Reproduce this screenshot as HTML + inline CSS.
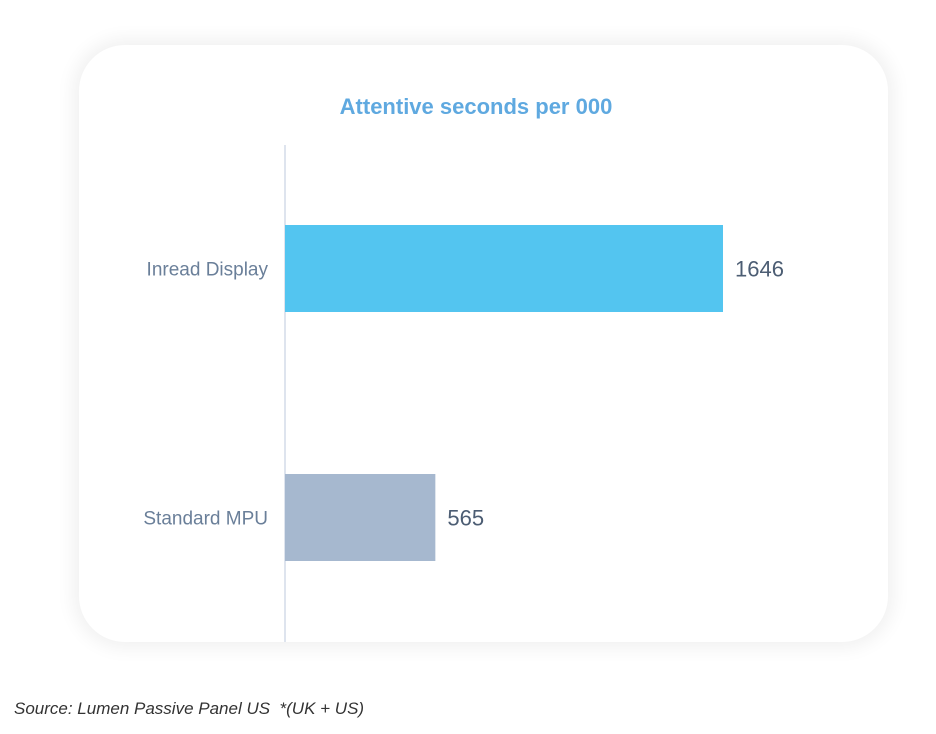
<!DOCTYPE html>
<html><head><meta charset="utf-8"><style>
body{margin:0;width:936px;height:734px;background:#fff;position:relative;overflow:hidden;font-family:"Liberation Sans",Arial,sans-serif}
#card{position:absolute;left:79px;top:45px;width:809px;height:597px;border-radius:46px;background:#fff;box-shadow:0 0 18px 6px rgba(0,0,0,0.06)}
#src{position:absolute;left:14px;top:699px;font-size:17px;font-style:italic;color:#333}
</style></head><body>
<div id="card"></div>
<svg id="chart" width="936" height="734" style="position:absolute;left:0;top:0">
<text x="476" y="114" text-anchor="middle" font-size="22" font-weight="bold" fill="#5fa9e0">Attentive seconds per 000</text>
<line x1="285" y1="145" x2="285" y2="642" stroke="#d3dce8" stroke-width="1.5"/>
</svg>
<div id="src">Source: Lumen Passive Panel US&nbsp; *(UK + US)</div>
<script>
const categories=["Inread Display","Standard MPU"];
const values=[1646,565];
const colors=["#53c5f0","#a6b8cf"];
const svg=document.getElementById('chart');
const NS='http://www.w3.org/2000/svg';
const x0=285, pxPerUnit=438/1646;
function xs(v){return x0+v*pxPerUnit;}
function yBand(i){return 225+i*249;}
const bh=87;
categories.forEach((c,i)=>{
  const y=yBand(i);
  const r=document.createElementNS(NS,'rect');
  r.setAttribute('x',x0);r.setAttribute('y',y);
  r.setAttribute('width',xs(values[i])-x0);r.setAttribute('height',bh);
  r.setAttribute('fill',colors[i]);
  
  
  svg.appendChild(r);
  const l=document.createElementNS(NS,'text');
  l.setAttribute('x',268);l.setAttribute('y',y+bh/2+7);
  l.setAttribute('text-anchor','end');l.setAttribute('font-size','19');l.setAttribute('fill','#6a7f99');
  l.textContent=c;
  
  
  svg.appendChild(l);
  const v=document.createElementNS(NS,'text');
  v.setAttribute('x',xs(values[i])+12);v.setAttribute('y',y+bh/2+8);
  v.setAttribute('font-size','22');v.setAttribute('fill','#4c5d73');
  v.textContent=values[i];
  
  
  svg.appendChild(v);
});
</script>
</body></html>
